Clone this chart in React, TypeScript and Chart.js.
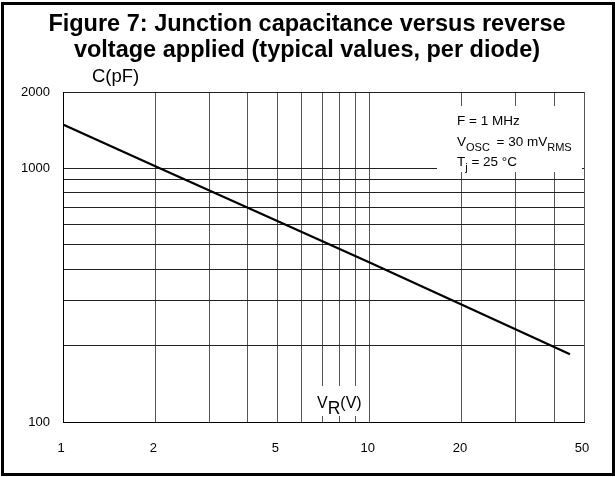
import React, { useEffect, useRef } from "react";
import { Chart, registerables } from "chart.js";

Chart.register(...registerables);

const titleLines = [
  "Figure 7: Junction capacitance versus reverse",
  "voltage applied (typical values, per diode)",
];
const xGridTicks = [1, 2, 3, 4, 5, 6, 7, 8, 9, 10, 20, 30, 40, 50];
const xLabelTicks = [1, 2, 5, 10, 20, 50];
const yGridTicks = [100, 200, 300, 400, 500, 600, 700, 800, 900, 1000, 2000];
const yLabelTicks = [100, 1000, 2000];
const voltage = [1, 2, 5, 10, 20, 45];
const capacitance = [1490, 1020, 620, 425, 290, 185];

const FONT = "'Liberation Sans', Arial, sans-serif";

const overlay = {
  id: "overlay",
  afterDraw(chart: any) {
    const ctx = chart.ctx as CanvasRenderingContext2D;
    const area = chart.chartArea;
    ctx.save();
    // frame
    ctx.strokeStyle = "#000";
    ctx.lineWidth = 3;
    ctx.strokeRect(2.5, 3.5, 611, 471);
    // title
    ctx.fillStyle = "#000";
    ctx.textAlign = "center";
    ctx.textBaseline = "alphabetic";
    ctx.font = `bold 23.5px ${FONT}`;
    ctx.fillText(titleLines[0], 307, 31);
    ctx.fillText(titleLines[1], 307, 57);
    // y axis title
    ctx.textAlign = "left";
    ctx.font = `18.5px ${FONT}`;
    ctx.fillText("C(pF)", 92, 82);

    // annotation box
    ctx.fillStyle = "#fff";
    ctx.fillRect(437, 106, area.right - 2 - 437, 172 - 106);
    ctx.fillStyle = "#000";
    const big = `13.5px ${FONT}`;
    const small = `11px ${FONT}`;
    ctx.font = big;
    const ax = 457;
    ctx.fillText("F = 1 MHz", ax, 125);
    let x = ax;
    ctx.fillText("V", x, 146);
    x += ctx.measureText("V").width;
    ctx.font = small;
    ctx.fillText("OSC", x, 151);
    x += ctx.measureText("OSC").width + 3;
    ctx.font = big;
    ctx.fillText(" = 30 mV", x, 146);
    x += ctx.measureText(" = 30 mV").width;
    ctx.font = small;
    ctx.fillText("RMS", x, 151);
    x = ax;
    ctx.font = big;
    ctx.fillText("T", x, 166);
    x += ctx.measureText("T").width;
    ctx.font = small;
    ctx.fillText("j", x, 171);
    x += ctx.measureText("j").width;
    ctx.font = big;
    ctx.fillText(" = 25 °C", x, 166);

    // V_R(V) label
    ctx.fillStyle = "#fff";
    ctx.fillRect(316, 386, 48, 30);
    ctx.fillStyle = "#000";
    x = 317;
    ctx.font = `16px ${FONT}`;
    ctx.fillText("V", x, 408);
    x += ctx.measureText("V").width;
    ctx.font = `17.5px ${FONT}`;
    ctx.fillText("R", x, 414);
    x += ctx.measureText("R").width;
    ctx.font = `16px ${FONT}`;
    ctx.fillText("(V)", x, 408);
    ctx.restore();
  },
};

export default function App() {
  const ref = useRef<HTMLCanvasElement | null>(null);
  useEffect(() => {
    document.body.style.margin = "0";
    document.body.style.overflow = "hidden";
    const canvas = ref.current!;
    const chart = new Chart(canvas, {
      type: "line",
      data: {
        datasets: [
          {
            data: voltage.map((v, i) => ({ x: v, y: capacitance[i] })),
            borderColor: "#000",
            borderWidth: 2.2,
            pointRadius: 0,
            tension: 0,
            fill: false,
          },
        ],
      },
      options: {
        responsive: false,
        animation: false,
        devicePixelRatio: 1,
        layout: { padding: { left: 0, right: 31, top: 92, bottom: 0 } },
        plugins: {
          legend: { display: false },
          title: { display: false },
          tooltip: { enabled: false },
        },
        scales: {
          x: {
            type: "logarithmic",
            min: 1,
            max: 50,
            afterBuildTicks: (scale: any) => {
              scale.ticks = xGridTicks.map((v) => ({ value: v }));
            },
            afterFit: (scale: any) => {
              scale.height = 55;
            },
            ticks: {
              autoSkip: false,
              maxRotation: 0,
              padding: 19,
              labelOffset: -2,
              color: "#000",
              font: { family: FONT, size: 13 },
              callback: (v: any) => (xLabelTicks.includes(Number(v)) ? String(v) : ""),
            },
            grid: { color: "#555", lineWidth: 1, drawTicks: false },
            border: { display: true, color: "#000", width: 1 },
          },
          y: {
            type: "logarithmic",
            min: 100,
            max: 2000,
            afterBuildTicks: (scale: any) => {
              scale.ticks = yGridTicks.map((v) => ({ value: v }));
            },
            afterFit: (scale: any) => {
              scale.width = 63;
            },
            ticks: {
              autoSkip: false,
              padding: 13,
              color: "#000",
              font: { family: FONT, size: 13 },
              callback: (v: any) => (yLabelTicks.includes(Number(v)) ? String(v) : ""),
            },
            grid: { color: "#222", lineWidth: 1, drawTicks: false },
            border: { display: true, color: "#000", width: 1 },
          },
        },
      },
      plugins: [overlay],
    } as any);
    return () => chart.destroy();
  }, []);
  return <canvas ref={ref} width={615} height={477} style={{ display: "block" }} />;
}
